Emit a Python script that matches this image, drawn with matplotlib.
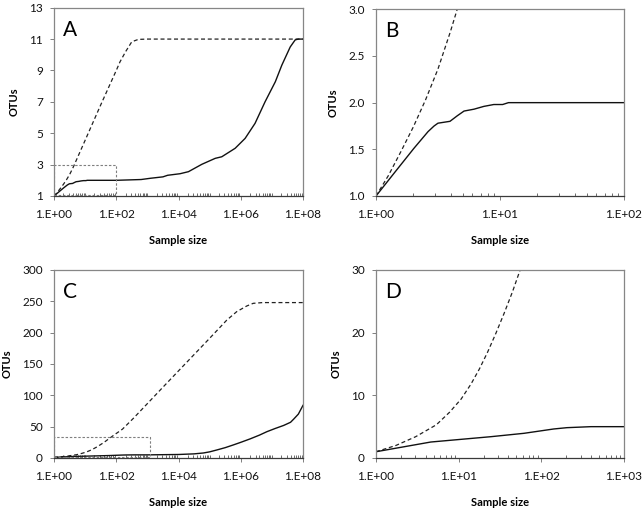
import numpy as np
import matplotlib
matplotlib.use("Agg")
import matplotlib.pyplot as plt
from matplotlib.ticker import FixedLocator, LogLocator, NullFormatter

plt.rcParams['font.family'] = ['Lato', 'DejaVu Sans']

# ---- data set 1 (panels A and B) ----
solid1_x = [1, 1.41, 2.02, 2.63, 2.94, 3.16, 3.95, 4.53, 5.13, 6.17, 7.41, 8.91, 10.5, 11.7, 100,
            631, 1259, 3162, 4467, 11220, 20893, 56234, 151356, 245471, 660693,
            1.38e6, 2.88e6, 6.03e6, 1.29e7, 2.09e7, 3.89e7, 5.62e7, 7.08e7, 1e8]
solid1_y = [1.0, 1.25, 1.51, 1.69, 1.75, 1.78, 1.80, 1.86, 1.91, 1.93, 1.96, 1.98, 1.98, 2.0, 2.0,
            2.05, 2.13, 2.22, 2.32, 2.42, 2.55, 3.02, 3.40, 3.50, 4.04,
            4.67, 5.63, 7.0, 8.28, 9.34, 10.5, 10.95, 11.0, 11.0]
dashed1_x = [1, 1.26, 1.58, 2.0, 2.51, 3.16, 3.98, 4.47, 10, 31.6, 100, 132, 200, 316, 513, 1000, 1e8]
dashed1_y = [1.0, 1.22, 1.47, 1.74, 2.03, 2.36, 2.76, 2.98, 4.55, 6.8, 9.0, 9.55, 10.2, 10.83, 10.98, 11.0, 11.0]

# ---- data set 2 (panels C and D) ----
solid2_x = [1, 4.6, 24.5, 61.7, 141, 204, 398, 1000, 1e4, 3.16e4, 6.31e4, 1e5, 1.7e5,
            3.16e5, 5.89e5, 1e6, 2e6, 3.98e6, 6.92e6, 1.26e7, 2.4e7, 3.98e7, 5.01e7, 7.08e7, 1e8]
solid2_y = [1.0, 2.55, 3.4, 3.94, 4.63, 4.84, 5.0, 5.0, 5.6, 6.6, 8.0, 9.8, 12.8,
            16.5, 21, 25, 30.5, 36.5, 42, 47, 52, 57, 62, 70, 84]
dashed2_x = [1, 1.74, 3.02, 5.37, 7.76, 10.7, 14.1, 17.8, 22.4, 28.2, 35.5, 44.7, 53.7, 81.3,
             158, 355, 1000, 3162, 1e4, 31623, 1e5, 3.55e5, 7.41e5, 1.55e6, 2.51e6, 5.01e6, 1e8]
dashed2_y = [1.0, 2.0, 3.4, 5.3, 7.3, 9.4, 11.8, 14.2, 16.9, 19.9, 23.1, 26.5, 29.5, 36,
             46, 63.3, 86.8, 113, 139, 165, 191, 220, 233.5, 242.5, 246.8, 248, 248]

# zoom boxes drawn in A and C
boxA_x = [1, 100]
boxA_y = [1.08, 3.0]
boxC_x = [1, 1200]
boxC_y = [1.0, 34.0]

panel_labels = ['A', 'B', 'C', 'D']
xlims = [(1, 1e8), (1, 1e2), (1, 1e8), (1, 1e3)]
xmajors = [[0, 2, 4, 6, 8], [0, 1, 2], [0, 2, 4, 6, 8], [0, 1, 2, 3]]
yticks = [[1, 3, 5, 7, 9, 11, 13],
          [1.0, 1.5, 2.0, 2.5, 3.0],
          [0, 50, 100, 150, 200, 250, 300],
          [0, 10, 20, 30]]
yticklabels = [['1', '3', '5', '7', '9', '11', '13'],
               ['1.0', '1.5', '2.0', '2.5', '3.0'],
               ['0', '50', '100', '150', '200', '250', '300'],
               ['0', '10', '20', '30']]

fig = plt.figure(figsize=(6.44, 5.12), dpi=100)
W, H = 644, 512
rects = [(54, 7.7, 303, 196), (376, 9.3, 624, 196), (54, 270, 303, 458), (376, 270, 624, 458)]
axes = []
for (l, t, r, b) in rects:
    axes.append(fig.add_axes([l / W, 1 - b / H, (r - l) / W, (b - t) / H]))

datasets = [(solid1_x, solid1_y, dashed1_x, dashed1_y),
            (solid1_x, solid1_y, dashed1_x, dashed1_y),
            (solid2_x, solid2_y, dashed2_x, dashed2_y),
            (solid2_x, solid2_y, dashed2_x, dashed2_y)]

for i, ax in enumerate(axes):
    sx, sy, dx, dy = datasets[i]
    ax.plot(dx, dy, color='#222222', lw=0.9, linestyle=(0, (3.2, 2.2)))
    ax.plot(sx, sy, color='#111111', lw=1.0, solid_joinstyle='round')
    ax.set_xscale('log')
    ax.set_xlim(*xlims[i])
    ax.set_ylim(yticks[i][0], yticks[i][-1])
    ax.xaxis.set_major_locator(FixedLocator([10.0 ** k for k in xmajors[i]]))
    ax.set_xticklabels([f"1.E+{k:02d}" for k in xmajors[i]])
    ax.xaxis.set_minor_locator(LogLocator(base=10, subs=np.arange(1, 10), numticks=200))
    ax.xaxis.set_minor_formatter(NullFormatter())
    ax.set_yticks(yticks[i])
    ax.set_yticklabels(yticklabels[i])
    ax.tick_params(axis='both', which='major', direction='out', length=3, width=0.7,
                   color='#7f7f7f', labelsize=8.5, labelcolor='#111111')
    ax.tick_params(axis='x', which='major', pad=6)
    ax.tick_params(axis='y', which='major', pad=5)
    ax.tick_params(axis='x', which='minor', direction='in', length=2.5, width=0.6, color='#555555')
    for s in ['top', 'right', 'left']:
        ax.spines[s].set_color('#868686')
        ax.spines[s].set_linewidth(0.9)
    ax.spines['bottom'].set_color('#3a3a3a')
    ax.spines['bottom'].set_linewidth(0.9)
    ax.set_xlabel('Sample size', fontsize=8, fontweight='bold', labelpad=11)
    ax.set_ylabel('OTUs', fontsize=8, fontweight='bold', labelpad=7)
    ax.text(0.036, 0.935, panel_labels[i], transform=ax.transAxes, ha='left', va='top',
            fontsize=15)

# zoom boxes
for ax, bx, by in [(axes[0], boxA_x, boxA_y), (axes[2], boxC_x, boxC_y)]:
    ax.plot([bx[0], bx[1], bx[1], bx[0], bx[0]], [by[0], by[0], by[1], by[1], by[0]],
            color='#7f7f7f', lw=0.8, linestyle=(0, (2.2, 1.6)))

fig.savefig('out.png', dpi=100)
